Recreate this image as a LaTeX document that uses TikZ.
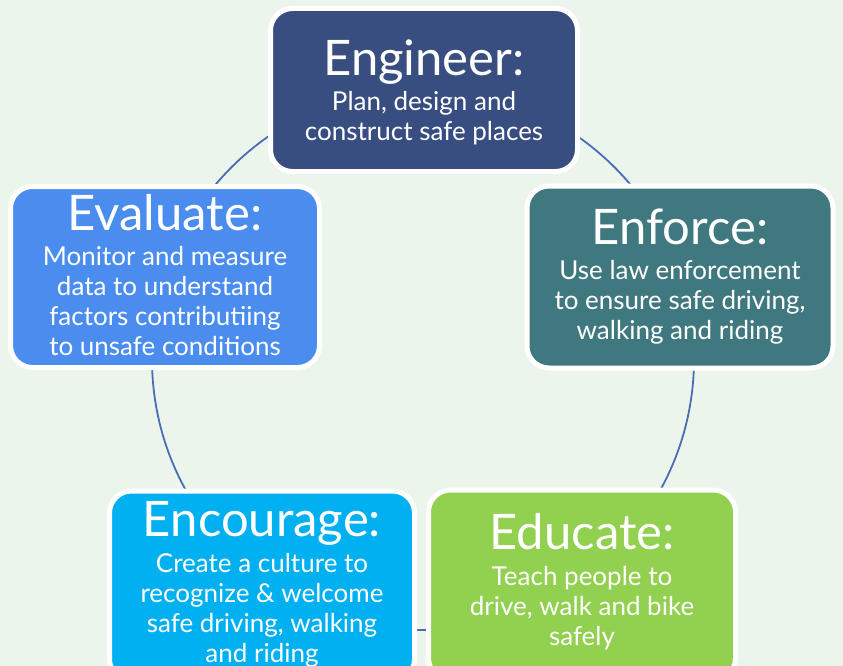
\documentclass[tikz,border=0pt]{standalone}
\usepackage{fontspec}
\setmainfont{Lato}
\definecolor{bgcol}{HTML}{EBF5EC}
\definecolor{ringcol}{HTML}{4A6DB5}
\definecolor{engcol}{HTML}{384D80}
\definecolor{enfcol}{HTML}{40787F}
\definecolor{educol}{HTML}{92D050}
\definecolor{enccol}{HTML}{00B0F0}
\definecolor{evacol}{HTML}{4A8DEE}
\begin{document}
\begin{tikzpicture}[x=1pt,y=-1pt,
    box/.style={draw=white,line width=5pt,rounded corners=22pt,inner sep=0pt},
    title/.style={text=white,anchor=base,inner sep=0pt,font=\fontsize{49}{49}\selectfont},
    body/.style={text=white,anchor=base,inner sep=0pt,align=center,font=\fontsize{26}{30}\selectfont}]
        \fill[bgcol](0,0)rectangle(843,666);
        \clip(0,0)rectangle(843,666);
        \coordinate(hub)at(423,359);
        \draw[ringcol,line width=1.8pt](hub)circle[radius=271pt];
        % the five phases
        \node[box,fill=engcol,minimum width=307pt,minimum height=163pt](eng)at(424,90){};
        \node[box,fill=enfcol,minimum width=306pt,minimum height=182pt](enf)at(680,277){};
        \node[box,fill=educol,minimum width=307pt,minimum height=190pt](edu)at(582,585){};
        \node[box,fill=enccol,minimum width=305pt,minimum height=190pt](enc)at(262,586){};
        \node[box,fill=evacol,minimum width=309pt,minimum height=181pt](eva)at(165,277){};
        % texts: body nodes sit on their last baseline
        \node[title](engT)at(424,76){Engineer:};
        \node[body](engB)at(424,140){Plan, design and\\construct safe places};
        \node[title](enfT)at(680,244){Enforce:};
        \node[body](enfB)at(680,339){Use law enforcement\\to ensure safe driving,\\walking and riding};
        \node[title](eduT)at(582,549){Educate:};
        \node[body](eduB)at(582,645){Teach people to\\drive, walk and bike\\safely};
        \node[title](encT)at(262,536){Encourage:};
        \node[body](encB)at(262,662){Create a culture to\\recognize \& welcome\\safe driving, walking\\and riding};
        \node[title](evaT)at(165,230){Evaluate:};
        \node[body](evaB)at(165,355){Monitor and measure\\data to understand\\factors contributiing\\to unsafe conditions};
    \end{tikzpicture}
\end{document}
